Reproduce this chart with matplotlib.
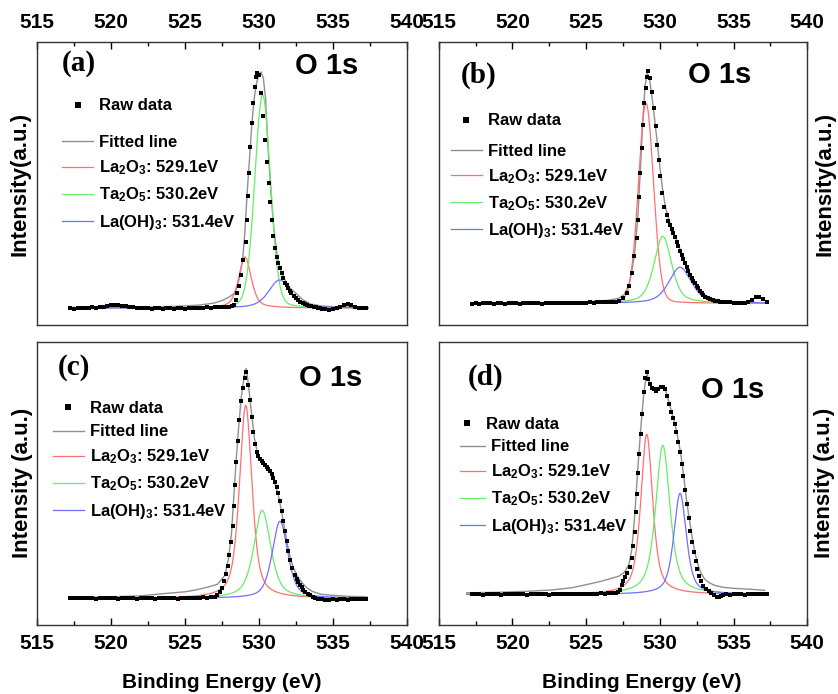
import numpy as np
import matplotlib.pyplot as plt
from matplotlib.ticker import MultipleLocator

plt.rcParams['font.family'] = 'Liberation Sans'
plt.rcParams['font.weight'] = 'bold'
plt.rcParams['axes.labelweight'] = 'bold'
plt.rcParams['mathtext.fontset'] = 'custom'
plt.rcParams['mathtext.rm'] = 'Liberation Sans:bold'
plt.rcParams['mathtext.it'] = 'Liberation Sans:bold'
plt.rcParams['mathtext.bf'] = 'Liberation Sans:bold'

panels = ['(a)', '(b)', '(c)', '(d)']
ylabels = ['Intensity(a.u.)', 'Intensity(a.u.)', 'Intensity (a.u.)', 'Intensity (a.u.)']
comp_labels = [r'La$_2$O$_3$: 529.1eV', r'Ta$_2$O$_5$: 530.2eV', r'La(OH)$_3$: 531.4eV']

# --- raw data (intensity in arbitrary units, baseline = 0) ---
# flat region below the peak, shared energy grid
base_e = [517.25, 517.5, 517.75, 518.0, 518.25, 518.5, 518.75, 519.0, 519.25, 519.5,
          519.75, 520.0, 520.25, 520.5, 520.75, 521.0, 521.25, 521.5, 521.75, 522.0,
          522.25, 522.5, 522.75, 523.0, 523.25, 523.5, 523.75, 524.0, 524.25, 524.5,
          524.75, 525.0, 525.25, 525.5, 525.75, 526.0, 526.25, 526.5, 526.75, 527.0]
tail_e = [534.25, 534.5, 534.75, 535.0, 535.25, 535.5, 535.75, 536.0, 536.25, 536.5,
          536.75, 537.0, 537.25]

a_base = [-0.5, -1, -0.5, 0, -0.5, 0, 0.5, 0, 0.5, 1,
          2, 2.5, 3, 2.5, 2, 1.5, 1, 0.5, 0, 0,
          -0.5, -0.5, -1, -0.5, -0.5, -1, -0.5, -0.5, -1, -0.5,
          -0.5, -1, -0.5, 0, -0.5, 0, 0, 0.5, 0, 0.5]
b_base = [-0.5, 0, -0.5, 0, 0.5, 0, -0.5, 0, 0, -0.5,
          0, 0.5, 0, -0.5, 0, 0, 0.5, 0, 0, -0.5,
          0, 0.5, 0, 0, 0.5, 0, 0, 0.5, 0.5, 0,
          0.5, 0.5, 1, 0.5, 1, 1, 1, 1.5, 1.5, 1.5]
c_base = [0.5, 0, 0.5, 0, 0, 0.5, 0, -0.5, 0, 0,
          0.5, 0, 0, -0.5, 0, 0.5, 0, 0, -0.5, 0,
          0, 0.5, 0, -0.5, 0, 0, 0.5, 0, 0, -0.5,
          0, 0.5, 0, 0.5, 0, 0.5, 1, 0.5, 1, 1.5]
d_base = [0, 0.5, 0, -0.5, 0, 0.5, 0, 0, -0.5, 0,
          0.5, 0, 0, 0.5, 0, -0.5, 0, 0, 0.5, 0,
          0, -0.5, 0, 0.5, 0, 0, 0.5, 0, 0.5, 0,
          0, 0.5, 0.5, 0, 0.5, 1, 0.5, 1, 1, 1.5]

a_tail = [-1, -1.5, -2, -1.5, -0.5, 1, 3, 3.5, 2.5, 1, 0, 0, -0.5]
b_tail = [1.2, 1, 0.8, 0.5, 0.5, 0.3, 0.5, 1.5, 3.5, 6, 6.5, 4, 1]
c_tail = [-1, -1.5, -1.5, -1, -1.5, -1, -1, -1.5, -1, -0.5, -1, -0.5, -0.5]
d_tail = [-0.5, 0, -0.5, 0, 0.5, 0, -0.5, 0, 0.5, 0, 0, 0.5, 0]

# peak region
a_peak_e = [527.25, 527.5, 527.75, 528.0, 528.15, 528.3, 528.45, 528.55, 528.65, 528.77,
            528.95, 529.1, 529.2, 529.28, 529.35, 529.43, 529.52, 529.62, 529.72, 529.8,
            529.9, 530.03, 530.17, 530.3, 530.42, 530.55, 530.66, 530.76, 530.87, 530.98,
            531.09, 531.2, 531.32, 531.43, 531.54, 531.65, 531.8, 531.9, 531.99, 532.1,
            532.2, 532.35, 532.5, 532.65, 532.8, 532.95, 533.1, 533.25, 533.4, 533.55,
            533.7, 533.85, 534.0, 534.12]
a_peak_i = [0.5, 0.5, 1, 1, 2, 3, 8, 15, 22, 33,
            48, 66, 88, 112, 135, 161, 185, 205, 221, 231,
            235, 233, 215, 192, 168, 146, 125, 106, 88, 72,
            60, 51, 45, 40, 35, 30, 25, 22.5, 20, 17,
            15, 12, 9.5, 7.5, 6, 5, 4, 3, 2.2, 1.6,
            1.2, 0.6, 0.2, 0]

b_peak_e = [527.25, 527.5, 527.75, 527.93, 528.09, 528.25, 528.43, 528.54, 528.61, 528.68,
            528.77, 528.86, 528.95, 529.03, 529.12, 529.22, 529.35, 529.47, 529.6, 529.72,
            529.83, 529.93, 530.03, 530.15, 530.3, 530.47, 530.58, 530.69, 530.8, 530.92,
            531.03, 531.15, 531.26, 531.38, 531.49, 531.6, 531.71, 531.83, 531.94, 532.05,
            532.16, 532.28, 532.39, 532.5, 532.61, 532.72, 532.84, 532.95, 533.07, 533.24,
            533.41, 533.58, 533.75, 533.92, 534.08]
b_peak_i = [2, 5, 10, 17, 30, 47, 65, 83, 106, 130,
            155, 178, 200, 215, 226, 232, 225, 211, 195, 177,
            158, 143, 127, 110, 96, 88, 82, 78, 74, 70,
            66, 61, 57, 52, 48, 44, 40, 36, 32, 28,
            25, 22.5, 20, 17.5, 15, 12.5, 10, 8, 6.6, 5,
            4, 3.2, 2.6, 2, 1.6]

c_peak_e = [527.2, 527.35, 527.5, 527.65, 527.78, 527.9, 528.0, 528.12, 528.22, 528.3,
            528.38, 528.47, 528.57, 528.68, 528.8, 528.92, 529.03, 529.14, 529.27, 529.39,
            529.51, 529.63, 529.74, 529.85, 529.96, 530.08, 530.19, 530.31, 530.42, 530.53,
            530.64, 530.76, 530.87, 530.98, 531.09, 531.21, 531.32, 531.43, 531.54, 531.65,
            531.77, 531.88, 531.99, 532.1, 532.26, 532.44, 532.56, 532.67, 532.78, 532.9,
            533.01, 533.12, 533.3, 533.46, 533.63, 533.8, 534.0]
c_peak_i = [3, 6, 10, 17, 24, 32, 43, 56, 72, 92,
            113, 136, 157, 178, 197, 210, 220, 226, 213, 198,
            181, 166, 154, 146, 142, 139, 137, 135, 133, 131,
            129, 127, 124, 120, 116, 111, 105, 97, 87, 77,
            67, 57, 47, 38, 30, 23, 19, 16, 13, 11,
            8.5, 6.6, 4.5, 3, 1.5, 0.5, -0.5]

d_peak_e = [527.15, 527.3, 527.42, 527.52, 527.64, 527.8, 527.95, 528.1, 528.2, 528.3,
            528.38, 528.45, 528.52, 528.6, 528.7, 528.8, 528.9, 529.0, 529.1, 529.22,
            529.34, 529.47, 529.6, 529.75, 529.9, 530.05, 530.2, 530.35, 530.5, 530.62,
            530.75, 530.87, 531.0, 531.12, 531.25, 531.37, 531.5, 531.6, 531.72, 531.83,
            531.95, 532.05, 532.17, 532.3, 532.42, 532.55, 532.68, 532.8, 532.95, 533.1,
            533.3, 533.5, 533.7, 533.85, 534.0, 534.15]
d_peak_i = [2.5, 4, 9, 13, 17, 21, 27, 36, 48, 62,
            82, 100, 121, 140, 160, 180, 202, 216, 222, 215,
            210, 206, 205, 203, 205, 207, 207, 205, 198, 190,
            182, 176, 170, 162, 152, 142, 130, 118, 104, 90,
            76, 63, 52, 42, 33, 25, 18, 13, 8, 5,
            3, 1.5, -1, -3, -3, -1.5]

base_i = [a_base, b_base, c_base, d_base]
peak_e = [a_peak_e, b_peak_e, c_peak_e, d_peak_e]
peak_i = [a_peak_i, b_peak_i, c_peak_i, d_peak_i]
tail_i = [a_tail, b_tail, c_tail, d_tail]

# --- fitted envelope (grey line) ---
a_fit_e = [517.2, 520.0, 523.0, 525.0, 526.0, 527.0, 527.6, 528.0, 528.38, 528.65,
           528.9, 529.05, 529.22, 529.38, 529.51, 529.65, 529.8, 530.0, 530.15, 530.3,
           530.45, 530.6, 530.8, 531.0, 531.25, 531.5, 531.8, 532.1, 532.55, 533.0,
           533.5, 534.2, 535.5, 537.4]
a_fit_i = [0.5, 1, 1, 2, 3, 5, 8, 11, 15, 28,
           48, 75, 118, 152, 181, 205, 222, 234, 236, 230,
           210, 165, 118, 82, 50, 37, 27, 20, 14, 8,
           4, 2, 1, 0.5]

b_fit_e = [517.2, 521.0, 524.0, 525.5, 526.5, 527.2, 527.6, 527.9, 528.1, 528.3,
           528.5, 528.7, 528.85, 529.0, 529.15, 529.3, 529.45, 529.6, 529.75, 529.9,
           530.05, 530.2, 530.4, 530.6, 530.8, 531.0, 531.3, 531.6, 531.9, 532.2,
           532.5, 532.8, 533.1, 533.5, 534.0, 535.0, 536.0, 537.3]
b_fit_i = [0.5, 0.5, 1, 2, 3, 5, 9, 18, 32, 52,
           85, 140, 185, 218, 230, 224, 208, 190, 170, 150,
           130, 112, 95, 84, 76, 68, 57, 45, 34, 25,
           18, 12, 8, 5, 3, 1.5, 1, 0.5]

c_fit_e = [517.2, 520.0, 522.0, 523.8, 525.0, 525.7, 526.5, 527.2, 527.7, 527.95,
           528.15, 528.3, 528.45, 528.6, 528.8, 529.0, 529.14, 529.3, 529.5, 529.7,
           529.9, 530.1, 530.3, 530.5, 530.7, 530.9, 531.1, 531.3, 531.5, 531.7,
           531.9, 532.1, 532.3, 532.6, 532.9, 533.2, 533.6, 534.2, 535.0, 536.0,
           537.3]
c_fit_i = [1, 1.5, 2.5, 5, 6.5, 8.3, 11, 14, 23, 40,
           65, 100, 135, 165, 200, 222, 230, 213, 185, 160,
           145, 139, 135, 131, 127, 122, 114, 104, 90, 73,
           56, 42, 32, 22, 16, 11, 7, 4, 3, 2,
           1.5]

d_fit_e = [516.9, 519.0, 521.0, 522.6, 524.0, 524.9, 526.0, 527.2, 527.6, 527.9,
           528.1, 528.3, 528.5, 528.7, 528.9, 529.05, 529.15, 529.3, 529.45, 529.6,
           529.8, 530.0, 530.2, 530.4, 530.6, 530.8, 531.0, 531.2, 531.4, 531.6,
           531.8, 532.0, 532.2, 532.4, 532.6, 532.8, 533.0, 533.3, 533.7, 534.3,
           535.0, 536.2, 537.1]
d_fit_i = [1.5, 2, 3, 4.3, 6.5, 9.3, 13, 18, 22, 30,
           45, 80, 125, 165, 200, 216, 220, 212, 207, 205,
           204, 206, 207, 203, 193, 182, 172, 158, 142, 120,
           95, 75, 56, 40, 29, 21, 16, 12, 9, 7,
           6, 5, 4]

fit_e = [a_fit_e, b_fit_e, c_fit_e, d_fit_e]
fit_i = [a_fit_i, b_fit_i, c_fit_i, d_fit_i]

# --- fitted components: center (eV), height, FWHM (eV), Lorentzian fraction ---
la2o3_pos = [529.06, 529.06, 529.11, 529.11]
la2o3_height = [51, 200, 193, 160]
la2o3_fwhm = [1.0, 1.2, 1.0, 0.95]
la2o3_lfrac = [0.5, 0.1, 0.6, 0.65]

ta2o5_pos = [530.25, 530.2, 530.23, 530.2]
ta2o5_height = [213, 67, 88, 149]
ta2o5_fwhm = [1.25, 1.4, 1.35, 1.15]
ta2o5_lfrac = [0.15, 0.5, 0.6, 0.65]

laoh3_pos = [531.4, 531.37, 531.43, 531.37]
laoh3_height = [28, 36, 77, 101]
laoh3_fwhm = [1.75, 1.8, 1.25, 1.0]
laoh3_lfrac = [0.5, 0.5, 0.5, 0.6]

scan_lo = [517.2, 517.2, 517.2, 516.9]
scan_hi = [537.4, 537.3, 537.3, 537.1]

# layout
ax_pos = [[0.0442, 0.5317, 0.4412, 0.4078],
          [0.5235, 0.5317, 0.4399, 0.4078],
          [0.0442, 0.0994, 0.4412, 0.4082],
          [0.5235, 0.0994, 0.4399, 0.4082]]
ylims = [(-17, 266), (-21.7, 261.3), (-26.7, 256.6), (-30.7, 252.6)]
letter_xy = [(0.114, 0.923), (0.107, 0.883), (0.10, 0.908), (0.126, 0.875)]
o1s_xy = [(0.784, 0.914), (0.763, 0.885), (0.795, 0.873), (0.798, 0.828)]
raw_anchor = [(0.068, 0.774), (0.033, 0.721), (0.043, 0.766), (0.044, 0.709)]
line_anchor = [(0.068, 0.500), (0.033, 0.470), (0.043, 0.538), (0.058, 0.485)]
handle_len = [1.85, 1.85, 1.85, 1.5]
ylabel_pad = [5, 5, 3, 5]

fit_color = '#909090'
comp_colors = ['#ff7070', '#66ee66', '#7070ff']


def pseudo_voigt(e, center, height, fwhm, lfrac):
    d = (e - center) / fwhm
    lor = 1.0 / (1.0 + 4.0 * d ** 2)
    gau = np.exp(-4.0 * np.log(2) * d ** 2)
    return height * (lfrac * lor + (1 - lfrac) * gau)


fig = plt.figure(figsize=(8.38, 6.94), dpi=100)

for k in range(4):
    ax = fig.add_axes(ax_pos[k])
    e = np.linspace(scan_lo[k], scan_hi[k], 800)
    comps = [pseudo_voigt(e, la2o3_pos[k], la2o3_height[k], la2o3_fwhm[k], la2o3_lfrac[k]),
             pseudo_voigt(e, ta2o5_pos[k], ta2o5_height[k], ta2o5_fwhm[k], ta2o5_lfrac[k]),
             pseudo_voigt(e, laoh3_pos[k], laoh3_height[k], laoh3_fwhm[k], laoh3_lfrac[k])]

    lines = []
    ln, = ax.plot(fit_e[k], fit_i[k], color=fit_color, lw=1.0, label='Fitted line')
    lines.append(ln)
    for c, col, lab in zip(comps, comp_colors, comp_labels):
        ln, = ax.plot(e, c, color=col, lw=0.9, label=lab)
        lines.append(ln)

    raw_e = base_e + peak_e[k] + tail_e
    raw_i = base_i[k] + peak_i[k] + tail_i[k]
    raw, = ax.plot(raw_e, raw_i, 's', color='black', ms=2.7, mew=0, label='Raw data', zorder=5)

    leg1 = ax.legend(handles=[raw], loc='center left', bbox_to_anchor=raw_anchor[k],
                     frameon=False, fontsize=12, handlelength=handle_len[k], handletextpad=0.35,
                     borderpad=0, borderaxespad=0, markerscale=1.8)
    ax.add_artist(leg1)
    ax.legend(handles=lines, loc='center left', bbox_to_anchor=line_anchor[k],
              frameon=False, fontsize=12, handlelength=handle_len[k], handletextpad=0.35,
              labelspacing=0.5, borderpad=0, borderaxespad=0)

    ax.set_xlim(515, 540)
    ax.set_ylim(*ylims[k])
    ax.set_yticks([])
    ax.xaxis.set_major_locator(MultipleLocator(5))
    ax.xaxis.set_minor_locator(MultipleLocator(2.5))
    ax.tick_params(axis='x', which='major', length=5, width=1)
    ax.tick_params(axis='x', which='minor', length=3, width=1)
    if k < 2:
        ax.tick_params(axis='x', which='both', direction='in', top=True, bottom=False,
                       labeltop=True, labelbottom=False, labelsize=15, pad=7.4)
    else:
        ax.tick_params(axis='x', which='both', direction='in', top=False, bottom=True,
                       labelsize=15, pad=6.8)
        ax.set_xlabel('Binding Energy (eV)', fontsize=15)
    for sp in ax.spines.values():
        sp.set_linewidth(1.0)
        sp.set_color('#333333')

    ax.set_ylabel(ylabels[k], fontsize=16, labelpad=ylabel_pad[k])
    if k % 2 == 1:
        ax.yaxis.set_label_position('right')

    ax.text(*letter_xy[k], panels[k], transform=ax.transAxes, ha='center', va='center',
            fontsize=21, family='Liberation Serif', weight='bold')
    ax.text(*o1s_xy[k], 'O 1s', transform=ax.transAxes, ha='center', va='center',
            fontsize=21, weight='bold')

    if k == 2:
        ax.xaxis.set_label_coords(0.5, -0.17)
    if k == 3:
        ax.xaxis.set_label_coords(0.551, -0.17)

fig.savefig('out.png', dpi=100)
